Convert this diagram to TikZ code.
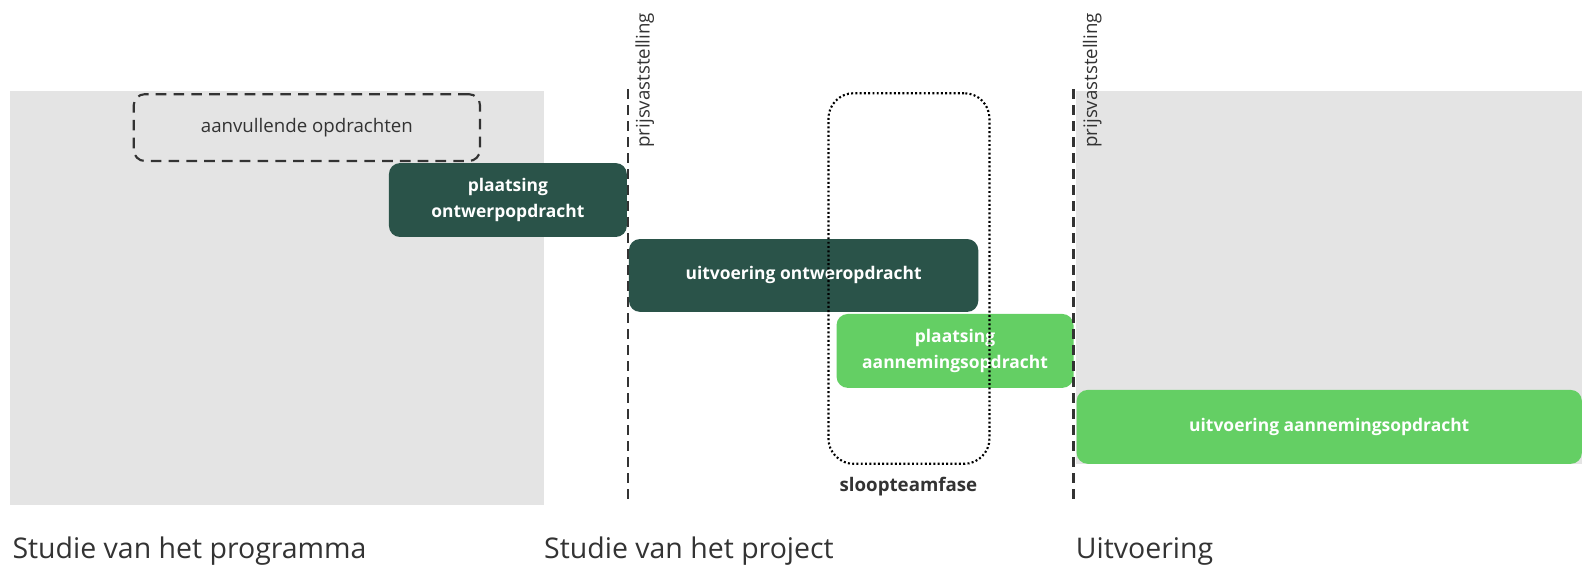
\documentclass[tikz,border=0pt]{standalone}
\usepackage{fontspec}
\setmainfont{Open Sans}
\definecolor{donker}{HTML}{2A5349}
\definecolor{licht}{HTML}{64CF64}
\definecolor{grijs}{HTML}{E4E4E4}
\definecolor{tekst}{HTML}{333333}
\tikzset{
	fase/.style={rounded corners=0.22cm, inner sep=0pt, align=center, text=white, font=\fontsize{9.8}{14.5}\selectfont\bfseries},
	donkerfase/.style={fase, fill=donker},
	lichtfase/.style={fase, fill=licht},
	grens/.style={line width=1.4pt, dash pattern=on 5.5pt off 3.5pt, draw=tekst},
	grenslabel/.style={rotate=90, anchor=north west, inner sep=0pt, text=tekst, font=\fontsize{10.5}{12}\selectfont},
	stap/.style={anchor=base west, inner sep=0pt, text=tekst, font=\fontsize{16}{18}\selectfont},
}
\begin{document}
\begin{tikzpicture}[x=0.02cm,y=-0.02cm]
			\useasboundingbox (0,0) rectangle (1568,563);
			\fill[grijs] (10,90) rectangle (537,499);
			\fill[grijs] (1062,90) rectangle (1562,458);
			\node[draw=tekst, line width=1.2pt, dash pattern=on 6pt off 4pt, rounded corners=0.22cm, minimum width=6.84cm, minimum height=1.32cm, text=tekst, font=\fontsize{10.5}{12}\selectfont] (aanvullend) at (303,126) {aanvullende opdrachten};
			\node[donkerfase, minimum width=4.7cm, minimum height=1.46cm] (plaatsingontwerp) at (501.5,197.5) {plaatsing\\ontwerpopdracht};
			\node[donkerfase, minimum width=6.9cm, minimum height=1.44cm] (uitvoeringontwerp) at (793.5,272) {uitvoering ontweropdracht};
			\node[lichtfase, minimum width=4.68cm, minimum height=1.46cm] (plaatsingaanneming) at (943,346.5) {plaatsing\\aannemingsopdracht};
			\node[lichtfase, minimum width=9.98cm, minimum height=1.46cm] (uitvoeringaanneming) at (1312.5,421.5) {uitvoering aannemingsopdracht};
			\node[draw=black, line width=1.2pt, dash pattern=on 1.1pt off 1.3pt, rounded corners=0.5cm, minimum width=3.18cm, minimum height=7.32cm] (sloopteam) at (897.5,275) {};
			\node[text=tekst, font=\fontsize{10.5}{12}\selectfont\bfseries] (sloopteamlabel) at (897,480) {sloopteamfase};
			\coordinate (grens1boven) at (620,88);
			\coordinate (grens1onder) at (620,499);
			\coordinate (grens2boven) at (1060,88);
			\coordinate (grens2onder) at (1060,499);
			\draw[grens] (grens1boven) -- (grens1onder);
			\draw[grens] (grens2boven) -- (grens2onder);
			\node[grenslabel] (grens1label) at (627,146) {prijsvaststelling};
			\node[grenslabel] (grens2label) at (1069,146) {prijsvaststelling};
			\node[stap] (programma) at (12,551) {Studie van het programma};
			\node[stap] (project) at (537,551) {Studie van het project};
			\node[stap] (uitvoering) at (1062,551) {Uitvoering};
		\end{tikzpicture}
\end{document}
